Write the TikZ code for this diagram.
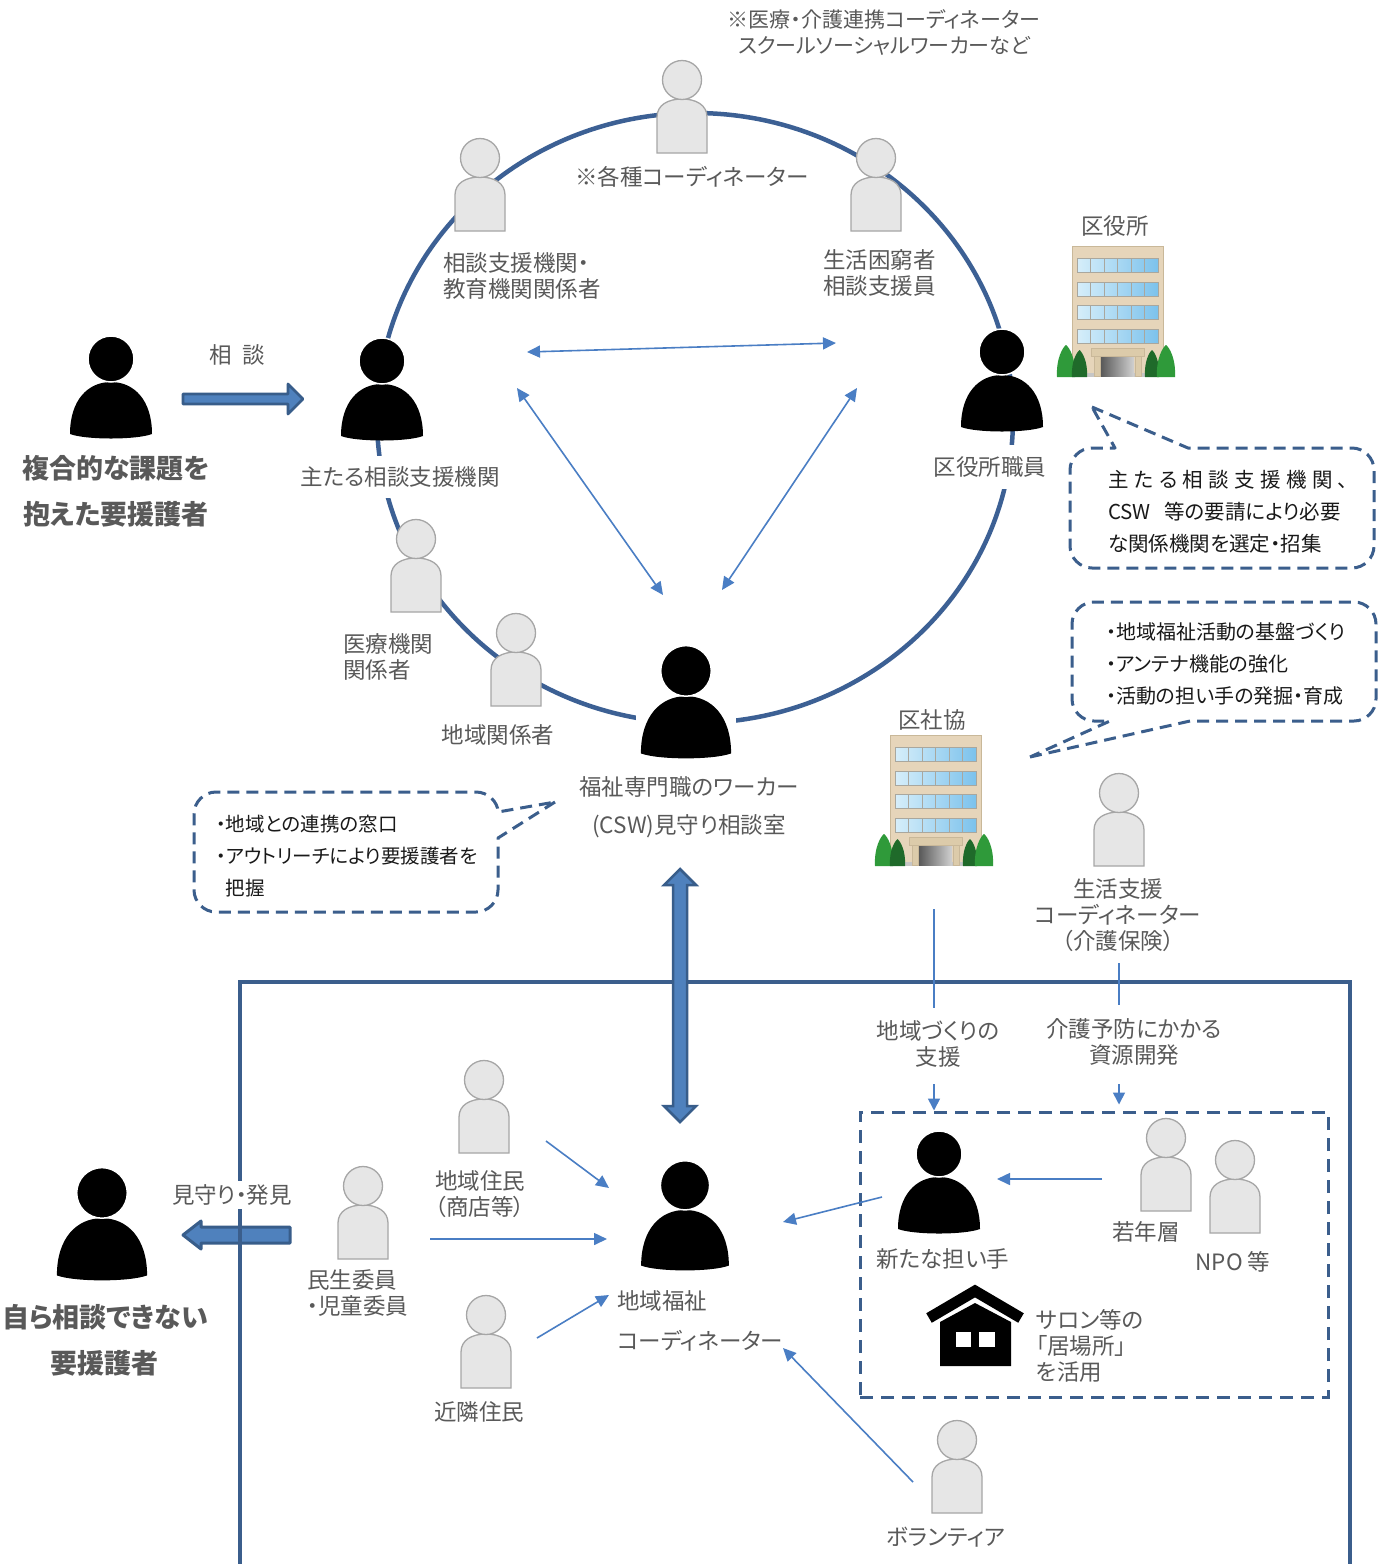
\documentclass[tikz,border=0pt]{standalone}
\usepackage{fontspec}
\setmainfont{Noto Sans CJK JP}[RawFeature=+palt]
\usetikzlibrary{arrows.meta,calc}
\definecolor{txt}{HTML}{595959}
\definecolor{ringblue}{HTML}{3C6094}
\definecolor{frameblue}{HTML}{3B5E8C}
\definecolor{thinblue}{HTML}{4A7EC4}
\definecolor{arrowfill}{HTML}{4F81BD}
\definecolor{arrowedge}{HTML}{385D8A}
\definecolor{pfill}{HTML}{E6E6E6}
\definecolor{pedge}{HTML}{A6A6A6}
\definecolor{wall}{HTML}{E6D5BA}
\definecolor{walledge}{HTML}{C9B899}
\definecolor{winL}{HTML}{D6EEFA}
\definecolor{winR}{HTML}{7CC2EC}
\definecolor{winedge}{HTML}{A9A79E}
\definecolor{canopy}{HTML}{DCCBAA}
\definecolor{treeL}{HTML}{2F9A3A}
\definecolor{treeD}{HTML}{1F6A2A}

\tikzset{
  gp/.style={fill=pfill, draw=pedge, line width=1.3pt},
  grayman/.pic={
    \path[gp] (-25,0) -- (-25,-36) .. controls (-25,-48) and (-14,-54) .. (0,-54)
      .. controls (14,-54) and (25,-48) .. (25,-36) -- (25,0) -- cycle;
    \path[gp] (0,-73) circle[radius=19.5];
  },
  blackman/.pic={
    \fill[black] (-41,-6) .. controls (-41,-40) and (-23,-58) .. (0,-58)
      .. controls (23,-58) and (41,-40) .. (41,-6)
      .. controls (25,0) and (-25,0) .. (-41,-6) -- cycle;
    \filldraw[fill=black, draw=white, line width=1.5pt] (0,-81) circle[radius=23];
  },
  office/.pic={
    \fill[wall, draw=walledge, line width=0.8pt] (0,0) rectangle (91,130);
    \foreach \wy in {12,36,59,83} {
      \fill[left color=winL, right color=winR] (5,\wy) rectangle (86,\wy+14);
      \draw[winedge, line width=0.8pt] (5,\wy) rectangle (86,\wy+14);
      \foreach \wc in {1,...,5} \draw[winedge, line width=0.8pt] (5+13.5*\wc,\wy) -- ++(0,14);
    }
    \fill[gray!45] (8,127) rectangle (83,131);
    \fill[left color=black!65, right color=black!18] (29,110) rectangle (62,130);
    \filldraw[fill=canopy, draw=walledge, line width=0.8pt] (19,102) rectangle (72,110);
    \filldraw[fill=canopy, draw=walledge, line width=0.8pt] (22,110) rectangle (28,130);
    \filldraw[fill=canopy, draw=walledge, line width=0.8pt] (63,110) rectangle (69,130);
    \fill[treeL] (-15,131) .. controls (-16,112) and (-9,101) .. (-6,99)
      .. controls (-3,101) and (4,112) .. (3,131) -- cycle;
    \fill[treeD] (0,131) .. controls (-1,115) and (5,106) .. (7.5,104)
      .. controls (10,106) and (16,115) .. (15,131) -- cycle;
    \fill[treeD] (73,131) .. controls (72,115) and (77.5,106) .. (80,104)
      .. controls (82.5,106) and (88,115) .. (87,131) -- cycle;
    \fill[treeL] (85,131) .. controls (84,112) and (91,101) .. (94,99)
      .. controls (97,101) and (104,112) .. (103,131) -- cycle;
  },
}

\begin{document}
\begin{tikzpicture}[x=1pt,y=-1pt,
  lbl/.style={text=txt, font=\fontsize{22.5}{26}\selectfont, inner sep=1pt, align=center},
  boldlbl/.style={text=txt, font=\fontsize{27}{46}\selectfont\bfseries, inner sep=1pt, align=center},
  notetext/.style={text=black!90, font=\fontsize{19.5}{32}\selectfont, inner sep=0pt, align=left},
  conn/.style={draw=thinblue, line width=1.6pt, -{Triangle[length=13pt,width=12pt]}},
  connboth/.style={conn, {Triangle[length=13pt,width=12pt]}-{Triangle[length=13pt,width=12pt]}},
  plainline/.style={draw=thinblue, line width=1.6pt},
  callout/.style={draw=frameblue, line width=3pt, dash pattern=on 12pt off 7pt, line join=round},
  blockarrow/.style={fill=arrowfill, draw=arrowedge, line width=2.8pt, line join=round},
  framebox/.style={draw=frameblue, line width=3.5pt},
]
\useasboundingbox (0,0) rectangle (1383,1564);
\fill[white] (0,0) rectangle (1383,1564);

% ---------- the ring of related agencies ----------
\draw[ringblue, line width=4.5pt] (695,418) ellipse [x radius=318, y radius=305];
\fill[white] (636,688) rectangle (736,732);

% people on and around the ring
\pic at (682,153) {grayman};
\pic at (480,231) {grayman};
\pic at (876,231) {grayman};
\pic at (416,612) {grayman};
\pic at (516,706) {grayman};
\pic at (111,440) {blackman};
\pic at (382,442) {blackman};
\pic at (1002,433) {blackman};
\pic[scale=1.1] at (686,760) {blackman};

% labels of the upper half
\node[lbl, font=\fontsize{21}{26}\selectfont] (notecoord) at (884,32) {※医療・介護連携コーディネーター\\スクールソーシャルワーカーなど};
\node[lbl] (coord) at (692,177) {※各種コーディネーター};
\node[lbl, anchor=west, align=left] (edu) at (442,276) {相談支援機関・\\教育機関関係者};
\node[lbl, anchor=west, align=left] (poverty) at (822,273) {生活困窮者\\相談支援員};
\node[lbl] (consult) at (237,355) {相\hspace{0.45em}談};
\node[boldlbl] (client) at (116,491) {複合的な課題を\\抱えた要援護者};
\node[lbl, fill=white, inner ysep=11pt] (mainorg) at (400,477) {主たる相談支援機関};
\node[lbl, fill=white, inner ysep=12pt] (wardstaff) at (990,467) {区役所職員};
\node[lbl, anchor=west, align=left] (medical) at (342,657) {医療機関\\関係者};
\node[lbl] (local) at (498,735) {地域関係者};
\node[lbl, font=\fontsize{22.5}{38}\selectfont] (csw) at (689,807) {福祉専門職のワーカー\\(CSW)見守り相談室};

% ward office and social welfare council buildings
\node[lbl] (wardoffice) at (1115,226) {区役所};
\pic at (1072,246) {office};
\node[lbl] (council) at (932,720) {区社協};
\pic at (890,735) {office};

% links inside the ring
\coordinate (la) at (527,352);
\coordinate (lb) at (836,343);
\coordinate (lc) at (517,388);
\coordinate (ld) at (663,595);
\coordinate (le) at (857,388);
\coordinate (lf) at (722,590);
\draw[connboth] (la) -- (lb);
\draw[connboth] (lc) -- (ld);
\draw[connboth] (le) -- (lf);

% consultation block arrow
\coordinate (consultTail) at (183,399);
\draw[blockarrow] ($(consultTail)+(0,-5)$) -- ++(105,0) -- ++(0,-10) -- ++(15,15) -- ++(-15,15) -- ++(0,-10) -- ++(-105,0) -- cycle;

% ---------- dashed speech callouts ----------
\draw[callout] (1092,407) -- (1188,448) -- (1352,448) .. controls (1364,448) and (1374,458) .. (1374,470)
  -- (1374,546) .. controls (1374,558) and (1364,568) .. (1352,568)
  -- (1092,568) .. controls (1080,568) and (1070,558) .. (1070,546)
  -- (1070,470) .. controls (1070,458) and (1080,448) .. (1092,448) -- (1115,448) -- cycle;
\node[notetext, anchor=west, font=\fontsize{20.5}{32}\selectfont] (wardnote) at (1108,512) {\makebox[240pt][s]{主\hfill た\hfill る\hfill 相\hfill 談\hfill 支\hfill 援\hfill 機\hfill 関\hfill 、}\\CSW\hspace{0.65em}等の要請により必要\\な関係機関を選定・招集};

\draw[callout] (1030,757) -- (1190,721) -- (1354,721) .. controls (1366,721) and (1376,711) .. (1376,699)
  -- (1376,624) .. controls (1376,612) and (1366,602) .. (1354,602)
  -- (1094,602) .. controls (1082,602) and (1072,612) .. (1072,624)
  -- (1072,699) .. controls (1072,711) and (1082,721) .. (1094,721) -- (1110,721) -- cycle;
\node[notetext, anchor=west, font=\fontsize{20}{32}\selectfont] (councilnote) at (1106,664) {・地域福祉活動の基盤づくり\\・アンテナ機能の強化\\・活動の担い手の発掘・育成};

\draw[callout] (555,802) -- (498,838) -- (498,890) .. controls (498,902) and (488,912) .. (476,912)
  -- (216,912) .. controls (204,912) and (194,902) .. (194,890)
  -- (194,814) .. controls (194,802) and (204,792) .. (216,792)
  -- (476,792) .. controls (488,792) and (498,802) .. (498,812) -- cycle;
\node[notetext, anchor=west] (cswnote) at (216,856) {・地域との連携の窓口\\・アウトリーチにより要援護者を\\\phantom{・}把握};

% ---------- community area ----------
\pic at (1119,866) {grayman};
\node[lbl, fill=white] (lifesup) at (1118,915) {生活支援\\コーディネーター\\（介護保険）};

\draw[blockarrow, line width=3pt] (290,1227) -- (201,1227) -- (201,1221) -- (183,1235) -- (201,1249) -- (201,1243) -- (290,1243) -- cycle;
\draw[framebox] (240,1564) -- (240,982) -- (1350,982) -- (1350,1564);
\node[lbl, fill=white, inner ysep=4pt] (watch) at (232,1195) {見守り・発見};

% two-way link between the watch room and the community coordinator
\draw[blockarrow, line join=miter, line width=2.5pt] (673,885) -- (664,885) -- (680,869) -- (696,885) -- (687,885) -- (687,1106) -- (696,1106) -- (680,1122) -- (664,1106) -- (673,1106) -- cycle;

% dashed area of new helpers
\node[draw=frameblue, line width=3pt, dash pattern=on 13pt off 8pt, minimum width=468pt, minimum height=285pt, inner sep=0pt] (hub) at (1094,1254.5) {};

% support lines from the council and the life-support coordinator
\node[lbl] (commdev) at (938,1044) {地域づくりの\\支援};
\node[lbl] (prevent) at (1134,1042) {介護予防にかかる\\資源開発};
\coordinate (cd1) at (934,909);
\coordinate (cd2) at (934,1008);
\coordinate (cd3) at (934,1084);
\coordinate (pv1) at (1119,963);
\coordinate (pv2) at (1119,1005);
\coordinate (pv3) at (1119,1084);
\draw[plainline] (cd1) -- (cd2);
\draw[conn, -{Triangle[length=12pt,width=12pt]}] (cd3) -- (cd3 |- hub.north);
\draw[plainline] (pv1) -- (pv2);
\draw[conn, -{Triangle[length=12pt,width=12pt]}] (pv3) -- ($(pv3 |- hub.north)+(0,-6)$);

% people of the community
\pic at (484,1153) {grayman};
\pic at (363,1259) {grayman};
\pic at (486,1388) {grayman};
\pic at (1166,1211) {grayman};
\pic at (1235,1233) {grayman};
\pic at (957,1513) {grayman};
\pic at (939,1235) {blackman};
\pic[scale=1.07] at (685,1272) {blackman};
\pic[scale=1.1] at (102,1282) {blackman};

\node[lbl] (resident) at (480,1194) {地域住民\\（商店等）};
\node[lbl, anchor=west, align=left] (minsei) at (306,1293) {民生委員\\・児童委員};
\node[lbl] (neighbor) at (479,1412) {近隣住民};
\node[lbl, anchor=west, align=left, font=\fontsize{22.5}{40}\selectfont] (cswc) at (616,1321) {地域福祉\\コーディネーター};
\node[lbl] (newhand) at (943,1259) {新たな担い手};
\node[lbl] (youth) at (1146,1232) {若年層};
\node[lbl] (npo) at (1233,1262) {NPO 等};
\node[lbl] (volunteer) at (946,1537) {ボランティア};
\node[boldlbl] (client2) at (105,1340) {自ら相談できない\\要援護者};

% house for the salon
\draw[black, line width=11pt] (929,1318) -- (975,1291) -- (1021,1318);
\fill[black] (940,1366) -- (940,1322) -- (975,1303) -- (1011,1322) -- (1011,1366) -- cycle;
\fill[white] (956,1332) rectangle (971,1347);
\fill[white] (979,1332) rectangle (995,1347);
\node[lbl, anchor=west, align=left] (salon) at (1035,1346) {サロン等の\\「居場所」\\を活用};

% arrows into the community coordinator
\coordinate (ra) at (546,1141);
\coordinate (rb) at (609,1188);
\coordinate (ma) at (430,1239);
\coordinate (mb) at (607,1239);
\coordinate (na) at (537,1338);
\coordinate (nb) at (609,1295);
\coordinate (ha) at (882,1197);
\coordinate (hb) at (783,1222);
\coordinate (va) at (913,1482);
\coordinate (vb) at (783,1348);
\coordinate (ya) at (1102,1179);
\coordinate (yb) at (997,1179);
\draw[conn] (ra) -- (rb);
\draw[conn] (ma) -- (mb);
\draw[conn] (na) -- (nb);
\draw[conn] (ha) -- (hb);
\draw[conn] (va) -- (vb);
\draw[conn] (ya) -- (yb);
\end{tikzpicture}
\end{document}
